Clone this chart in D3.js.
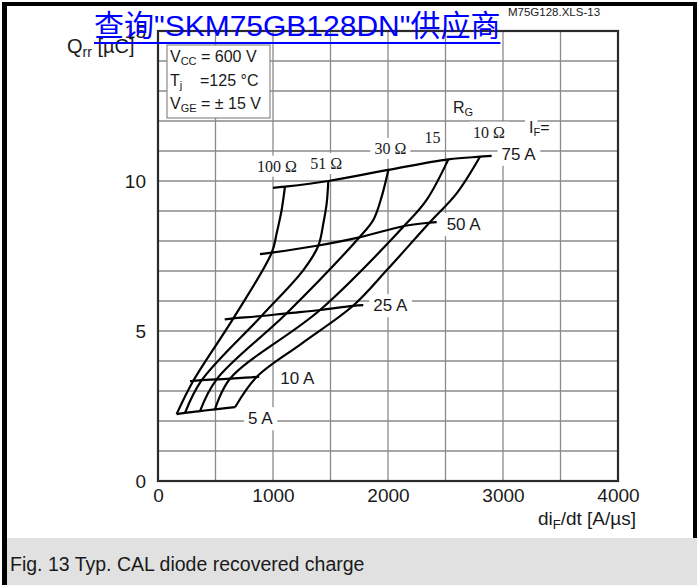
<!DOCTYPE html>
<html>
<head>
<meta charset="utf-8">
<script src="https://cdn.jsdelivr.net/npm/d3@7"></script>
<style>
	body { margin: 0; background: #fff; }
	svg { display: block; }
	text { font-family: "Liberation Sans", Arial, sans-serif; fill: #1a1a1a; }
</style>
</head>
<body>
<svg id="chart" width="697" height="585"></svg>
<script>
/*
 *	DATA  (diF/dt in A/µs, Qrr in µC)
 */
var xTicks = [0, 1000, 2000, 3000, 4000]
var yTicks = [0, 5, 10, 15]

// constant gate resistance curves, from IF = 5 A up to IF = 75 A
var rgLabels = ['100 Ω', '51 Ω', '30 Ω', '15', '10 Ω']
var rg100 = [[162, 2.23], [307, 3.34], [655, 5.42], [989, 7.61], [1032, 8.26], [1075, 9.03], [1104, 9.81]]
var rg51 = [[235, 2.27], [380, 3.36], [900, 5.5], [1264, 7.03], [1395, 7.85], [1438, 8.59], [1467, 9.26], [1481, 10.0]]
var rg30 = [[365, 2.33], [510, 3.39], [1119, 5.59], [1750, 8.12], [1872, 8.7], [1945, 9.48], [2003, 10.37]]
var rg15 = [[496, 2.39], [626, 3.41], [1409, 5.7], [2140, 8.5], [2336, 9.37], [2525, 10.72]]
var rg10 = [[670, 2.46], [858, 3.47], [1252, 4.59], [1696, 5.84], [1990, 7.03], [2360, 8.61], [2597, 9.59], [2800, 10.81]]

// constant forward current lines
var ifLabels = ['5 A', '10 A', '25 A', '50 A', '75 A']
var if5 = [[162, 2.23], [235, 2.27], [365, 2.33], [496, 2.39], [670, 2.46]]
var if10 = [[278, 3.33], [307, 3.34], [380, 3.36], [510, 3.39], [626, 3.41], [858, 3.47], [880, 3.48]]
var if25 = [[580, 5.39], [655, 5.42], [900, 5.5], [1119, 5.59], [1409, 5.7], [1696, 5.84], [1785, 5.86]]
var if50 = [[887, 7.56], [989, 7.61], [1395, 7.85], [1750, 8.12], [2140, 8.5], [2360, 8.61], [2423, 8.63]]
var if75 = [[1000, 9.77], [1104, 9.81], [1481, 10.0], [2003, 10.37], [2525, 10.72], [2800, 10.81], [2901, 10.84]]

var rgCurves = [rg100, rg51, rg30, rg15, rg10]
var ifCurves = [if5, if10, if25, if50, if75]

/*
 *	LAYOUT
 */
var plot = { left: 158, top: 31, right: 618, bottom: 481 }
// label offsets (px) from the top end of each RG curve / right end of each IF line
var rgLabelOffset = [[-8, -15], [-2, -12], [2, -16], [-16, -16], [9, -19]]
var ifLabelOffset = [[13, 17], [21, 7], [10, 6], [10, 8], [10, 4]]

var svg = d3.select('#chart')

var x = d3.scaleLinear().domain([0, 4000]).range([plot.left, plot.right])
var y = d3.scaleLinear().domain([0, 15]).range([plot.bottom, plot.top])

// outer frame + caption strip
svg.append('rect').attr('x', 0).attr('y', 0).attr('width', 697).attr('height', 585).attr('fill', '#fff')
svg.append('rect').attr('x', 4).attr('y', 538).attr('width', 693).attr('height', 47).attr('fill', '#e1e1e1')
svg.append('rect').attr('x', 2).attr('y', 2).attr('width', 5).attr('height', 583).attr('fill', '#000')
svg.append('rect').attr('x', 2).attr('y', 2).attr('width', 695).attr('height', 4).attr('fill', '#000')
svg.append('rect').attr('x', 693).attr('y', 2).attr('width', 4).attr('height', 536).attr('fill', '#000')

svg.append('text')
	.attr('x', 10).attr('y', 571)
	.attr('font-size', 19.5)
	.text('Fig. 13 Typ. CAL diode recovered charge')

// grid
var grid = svg.append('g')
grid.selectAll('line.v')
	.data(d3.range(500, 4000, 500))
	.enter().append('line')
	.attr('x1', d => x(d)).attr('x2', d => x(d))
	.attr('y1', plot.top).attr('y2', plot.bottom)
	.attr('stroke', '#8a8a8a').attr('stroke-width', 1.3)
grid.selectAll('line.h')
	.data(d3.range(1, 15, 1))
	.enter().append('line')
	.attr('x1', plot.left).attr('x2', plot.right)
	.attr('y1', d => y(d)).attr('y2', d => y(d))
	.attr('stroke', '#8a8a8a').attr('stroke-width', 1.3)

svg.append('rect')
	.attr('x', plot.left).attr('y', plot.top)
	.attr('width', plot.right - plot.left).attr('height', plot.bottom - plot.top)
	.attr('fill', 'none').attr('stroke', '#2a2a2a').attr('stroke-width', 2.2)

// axes (labels only, the grid carries the ticks)
var xAxis = d3.axisBottom(x).tickValues(xTicks).tickFormat(d3.format('d')).tickSize(0).tickPadding(0)
var gx = svg.append('g').attr('transform', `translate(0,${plot.bottom + 7})`).call(xAxis)
gx.select('.domain').remove()
gx.selectAll('text').attr('font-size', 19).attr('fill', '#1a1a1a').attr('font-family', 'Liberation Sans, Arial, sans-serif')

var yAxis = d3.axisLeft(y).tickValues(yTicks).tickSize(0).tickPadding(0)
var gy = svg.append('g').attr('transform', `translate(${plot.left - 12},0)`).call(yAxis)
gy.select('.domain').remove()
gy.selectAll('text').attr('font-size', 19).attr('fill', '#1a1a1a').attr('font-family', 'Liberation Sans, Arial, sans-serif')

// axis titles
var qLabel = svg.append('text').attr('x', 67).attr('y', 53).attr('font-size', 20)
qLabel.append('tspan').text('Q')
qLabel.append('tspan').attr('font-size', 14).attr('dy', 4).text('rr')
qLabel.append('tspan').attr('dy', -4).text(' [µC]')

var dLabel = svg.append('text').attr('x', 636).attr('y', 525).attr('font-size', 19).attr('text-anchor', 'end')
dLabel.append('tspan').text('di')
dLabel.append('tspan').attr('font-size', 13).attr('dy', 4).text('F')
dLabel.append('tspan').attr('dy', -4).text('/dt [A/µs]')

// conditions box
var box = svg.append('g')
box.append('rect')
	.attr('x', 167).attr('y', 45).attr('width', 103).attr('height', 73)
	.attr('fill', '#fff').attr('stroke', '#8a8a8a').attr('stroke-width', 1.2)
var cond = [['V', 'CC', ' = 600 V'], ['T', 'j', '    =125 °C'], ['V', 'GE', ' = ± 15 V']]
cond.forEach((c, i) => {
	var t = box.append('text').attr('x', 170).attr('y', 62 + i * 23.5).attr('font-size', 16)
		.attr('xml:space', 'preserve')
	t.append('tspan').text(c[0])
	t.append('tspan').attr('font-size', 11).attr('dy', 3).text(c[1])
	t.append('tspan').attr('dy', -3).text(c[2])
})

// label backgrounds first, so they cut the grid like on the sheet
var labels = svg.append('g')
var bgs = svg.append('g')

function addLabel(px, py, str, opts) {
	var t = labels.append('text')
		.attr('x', px).attr('y', py)
		.attr('font-size', opts.size)
		.attr('text-anchor', opts.anchor || 'start')
		.style('font-family', opts.family || null)
		.text(str)
	var bb = t.node().getBBox()
	bgs.append('rect')
		.attr('x', bb.x - 4).attr('y', bb.y - 2)
		.attr('width', bb.width + 8).attr('height', bb.height + 4)
		.attr('fill', '#fff')
	return t
}

rgCurves.forEach((c, i) => {
	var end = c[c.length - 1]
	addLabel(x(end[0]) + rgLabelOffset[i][0], y(end[1]) + rgLabelOffset[i][1], rgLabels[i],
		{ size: 16, anchor: 'middle', family: '"Liberation Serif", "Times New Roman", serif' })
})
ifCurves.forEach((c, i) => {
	var end = c[c.length - 1]
	addLabel(x(end[0]) + ifLabelOffset[i][0], y(end[1]) + ifLabelOffset[i][1], ifLabels[i], { size: 17 })
})

var rgTitle = addLabel(453, 113, 'R', { size: 16 })
rgTitle.append('tspan').attr('font-size', 11).attr('dy', 3).text('G')
var ifTitle = addLabel(529, 133, 'I', { size: 16 })
ifTitle.append('tspan').attr('font-size', 11).attr('dy', 3).text('F')
ifTitle.append('tspan').attr('dy', -3).text('=')

// curves
var line = d3.line()
	.x(d => x(d[0]))
	.y(d => y(d[1]))
	.curve(d3.curveCatmullRom.alpha(0.5))

var curves = svg.append('g')
curves.selectAll('path.rg')
	.data(rgCurves)
	.enter().append('path')
	.attr('d', line)
	.attr('fill', 'none').attr('stroke', '#000').attr('stroke-width', 2.2)
curves.selectAll('path.if')
	.data(ifCurves)
	.enter().append('path')
	.attr('d', line)
	.attr('fill', 'none').attr('stroke', '#000').attr('stroke-width', 2.2)

labels.raise()

// sheet reference + link overlay
svg.append('text')
	.attr('x', 508).attr('y', 16)
	.attr('font-size', 11.5)
	.attr('fill', '#333')
	.text('M75G128.XLS-13')

var link = svg.append('text')
	.attr('x', 94).attr('y', 36)
	.attr('font-size', 30)
	.style('fill', '#0000ff')
	.style('font-family', '"Liberation Sans", "Noto Sans CJK SC", sans-serif')
	.text('查询"SKM75GB128DN"供应商')
var lb = link.node().getBBox()
svg.append('rect')
	.attr('x', lb.x).attr('y', 42)
	.attr('width', lb.width).attr('height', 2)
	.attr('fill', '#0000ff')
</script>
</body>
</html>
